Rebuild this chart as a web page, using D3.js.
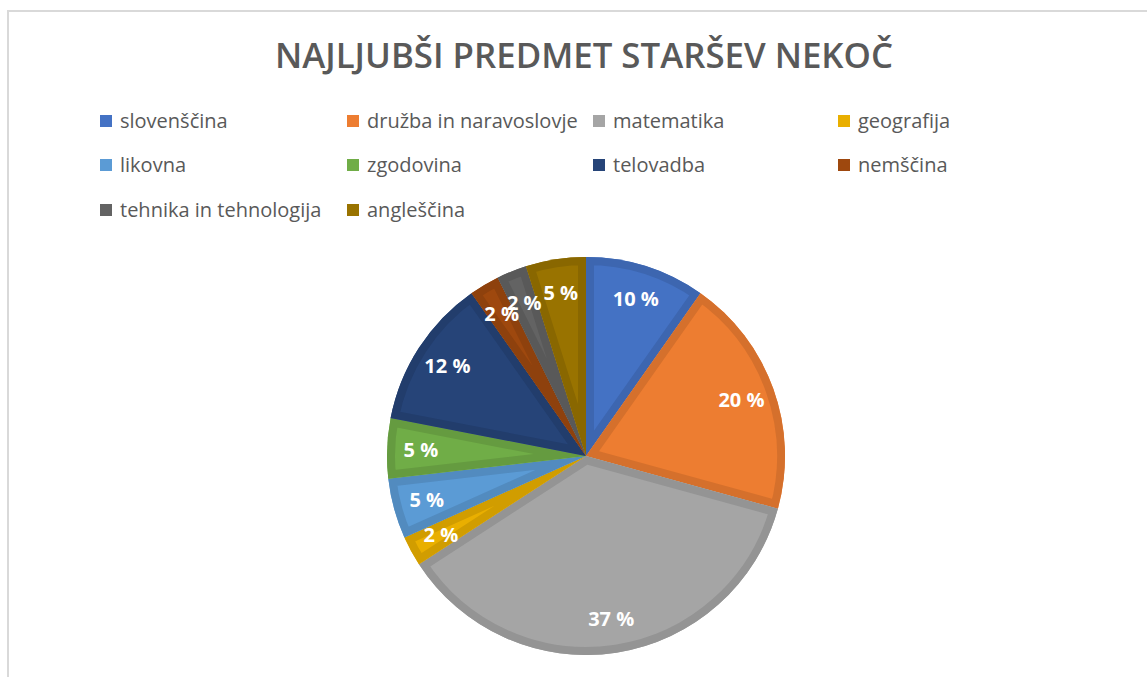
<!DOCTYPE html>
<html>
<head>
<meta charset="utf-8">
<script src="https://cdn.jsdelivr.net/npm/d3@7"></script>
<style>
  body { margin: 0; background: #fff; }
  svg { display: block; }
</style>
</head>
<body>
<div id="chart"></div>
<script>
// data (counts out of 41 answers)
var subjects = ['slovenščina', 'družba in naravoslovje', 'matematika', 'geografija', 'likovna',
                'zgodovina', 'telovadba', 'nemščina', 'tehnika in tehnologija', 'angleščina'];
var counts = [4, 8, 15, 1, 2, 2, 5, 1, 1, 2];
var colors = ['#4472C4', '#ED7D31', '#A5A5A5', '#E9AF00', '#5B9BD5',
              '#70AD47', '#264478', '#9E480E', '#636363', '#997300'];
var titleText = 'NAJLJUBŠI PREDMET  STARŠEV NEKOČ';

var width = 1147, height = 677;
var cx = 586, cy = 456, radius = 199;

var svg = d3.select('#chart').append('svg')
    .attr('width', width)
    .attr('height', height);

// chart area frame (only top and left visible)
svg.append('rect')
    .attr('x', 8).attr('y', 11)
    .attr('width', 1200).attr('height', 800)
    .attr('fill', 'none')
    .attr('stroke', '#d9d9d9')
    .attr('stroke-width', 2);

svg.append('text')
    .attr('x', 584)
    .attr('y', 68)
    .attr('text-anchor', 'middle')
    .attr('textLength', 618)
    .attr('lengthAdjust', 'spacingAndGlyphs')
    .style('font-family', 'Open Sans')
    .style('font-weight', '600')
    .style('font-size', '34px')
    .attr('fill', '#595959')
    .text(titleText);

// legend, 4 columns
var colX = [100, 347, 593, 838];
var rowY = [121, 165, 210];
var legend = svg.append('g');
var items = legend.selectAll('g')
    .data(subjects)
    .enter()
    .append('g')
    .attr('transform', function(d, i){
        return 'translate(' + colX[i % 4] + ',' + rowY[Math.floor(i / 4)] + ')';
    });
items.append('rect')
    .attr('x', 0).attr('y', -6)
    .attr('width', 12).attr('height', 12)
    .attr('fill', function(d, i){ return colors[i]; });
items.append('text')
    .attr('x', 20)
    .attr('y', 7)
    .style('font-family', 'Open Sans')
    .style('font-size', '20px')
    .attr('fill', '#595959')
    .text(function(d){ return d; });

// pie
var total = d3.sum(counts);
var pie = d3.pie().sort(null).value(function(d){ return d; });
var arc = d3.arc().innerRadius(0).outerRadius(radius);
var labelArc = d3.arc().innerRadius(radius * 0.83).outerRadius(radius * 0.83);
var arcs = pie(counts);

var defs = svg.append('defs');
defs.selectAll('clipPath')
    .data(arcs)
    .enter()
    .append('clipPath')
    .attr('id', function(d, i){ return 'slice' + i; })
    .append('path')
    .attr('d', arc);

var g = svg.append('g').attr('transform', 'translate(' + cx + ',' + cy + ')');

var slices = g.selectAll('g.slice')
    .data(arcs)
    .enter()
    .append('g')
    .attr('class', 'slice');

slices.append('path')
    .attr('d', arc)
    .attr('fill', function(d, i){ return colors[i]; });

// darker inner rim of each slice
slices.append('path')
    .attr('d', arc)
    .attr('clip-path', function(d, i){ return 'url(#slice' + i + ')'; })
    .attr('fill', 'none')
    .attr('stroke', function(d, i){ return d3.color(colors[i]).darker(0.3); })
    .attr('stroke-width', 16)
    .attr('stroke-linejoin', 'miter');

g.selectAll('text.lbl')
    .data(arcs)
    .enter()
    .append('text')
    .attr('class', 'lbl')
    .attr('transform', function(d){ return 'translate(' + labelArc.centroid(d) + ')'; })
    .attr('text-anchor', 'middle')
    .attr('dy', '0.35em')
    .style('font-family', 'Open Sans')
    .style('font-weight', 'bold')
    .style('font-size', '20px')
    .attr('fill', '#fff')
    .text(function(d){ return Math.round(d.value / total * 100) + ' %'; });
</script>
</body>
</html>
